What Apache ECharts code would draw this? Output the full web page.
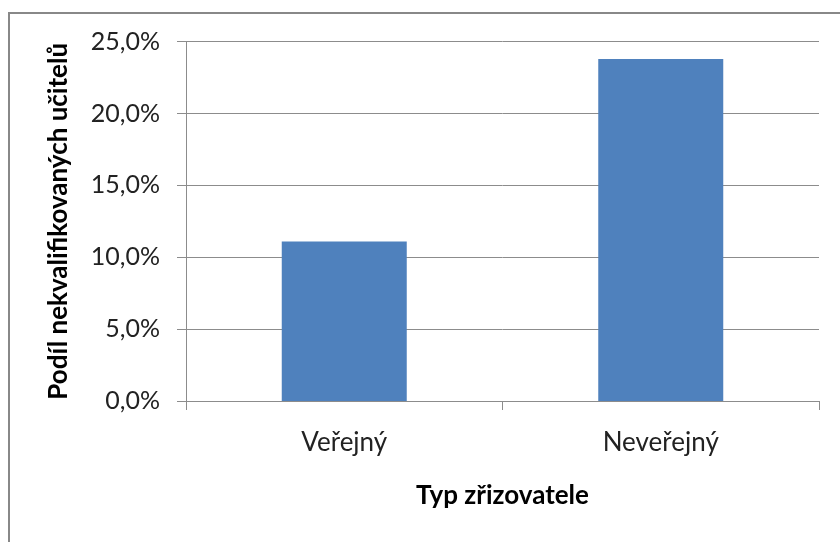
<!DOCTYPE html>
<html>
<head>
<meta charset="utf-8">
<script src="https://cdn.jsdelivr.net/npm/echarts@6/dist/echarts.min.js"></script>
<style>
  html, body { margin: 0; padding: 0; background: #fff; }
  #chart { width: 840px; height: 542px; }
</style>
</head>
<body>
<div id="chart"></div>
<script>
// data
const categories = ['Veřejný', 'Neveřejný'];
const shareValues = [11.1, 23.8]; // percent
const yTicks = { min: 0, max: 25, step: 5 };

const fontFamily = 'Lato, "Open Sans", sans-serif';
const gray = '#8c8c8c';

const chart = echarts.init(document.getElementById('chart'));
chart.setOption({
  animation: false,
  backgroundColor: '#fff',
  graphic: [{
    type: 'rect',
    shape: { x: 9, y: 13, width: 900, height: 600 },
    style: { fill: 'none', stroke: '#888', lineWidth: 2 },
    silent: true
  }],
  grid: {
    left: 186,
    right: 21,
    top: 41.7,
    bottom: 141
  },
  xAxis: {
    type: 'category',
    data: categories,
    name: 'Typ zřizovatele',
    nameLocation: 'middle',
    nameGap: 82,
    nameTextStyle: { fontFamily, fontSize: 26, fontWeight: 'bold', color: '#000' },
    axisLine: { lineStyle: { color: gray, width: 1 } },
    axisTick: { show: true, length: 9, lineStyle: { color: gray } },
    axisLabel: { margin: 29, fontFamily, fontSize: 26, color: '#222' }
  },
  yAxis: {
    type: 'value',
    min: yTicks.min,
    max: yTicks.max,
    interval: yTicks.step,
    name: 'Podíl nekvalifikovaných učitelů',
    nameLocation: 'middle',
    nameGap: 114,
    nameRotate: 90,
    nameTextStyle: { fontFamily, fontSize: 26, fontWeight: 'bold', color: '#000' },
    axisLine: { show: true, lineStyle: { color: gray, width: 1 } },
    axisTick: { show: true, length: 9, lineStyle: { color: gray } },
    splitLine: { lineStyle: { color: gray, width: 1 } },
    axisLabel: {
      margin: 26,
      fontFamily,
      fontSize: 25,
      color: '#222',
      formatter: v => v.toFixed(1).replace('.', ',') + '%'
    }
  },
  series: [{
    type: 'bar',
    data: shareValues,
    barWidth: 125,
    itemStyle: { color: '#4f81bd' }
  }]
});
</script>
</body>
</html>
